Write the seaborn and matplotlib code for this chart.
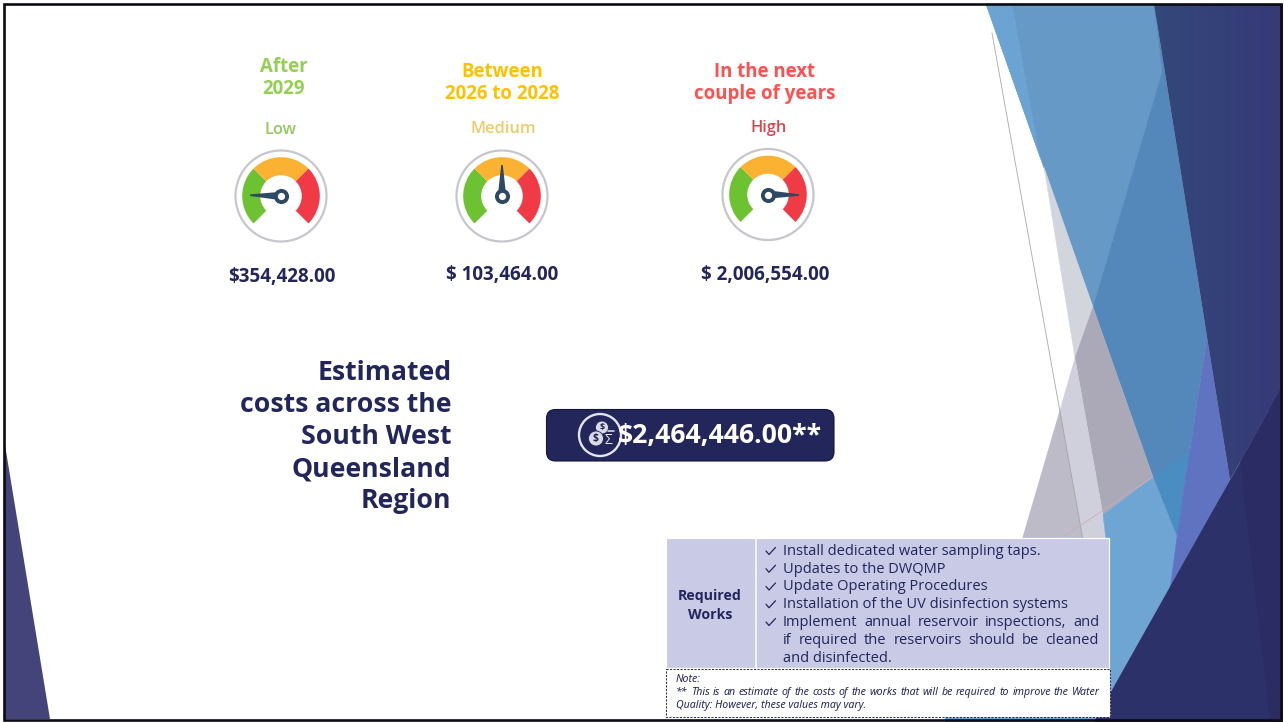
import matplotlib
matplotlib.use("Agg")
import matplotlib.pyplot as plt
from matplotlib.colors import to_rgb
from matplotlib.patches import Polygon, Wedge, Circle, Rectangle, FancyBboxPatch
import numpy as np
import seaborn as sns

# ---------- chart content ----------
period_lines = [["After", "2029"], ["Between", "2026 to 2028"], ["In the next", "couple of years"]]
risk_labels = ["Low", "Medium", "High"]
cost_labels = ["$354,428.00", "$ 103,464.00", "$ 2,006,554.00"]
needle_angles = [178.5, 90, -1]
total_label = "$2,464,446.00**"
heading_lines = ["Estimated", "costs across the", "South West", "Queensland", "Region"]
works_title = ["Required", "Works"]
works_lines = [("Install dedicated water sampling taps.", True, False),
               ("Updates to the DWQMP", True, False),
               ("Update Operating Procedures", True, False),
               ("Installation of the UV disinfection systems", True, False),
               ("Implement annual reservoir inspections, and", True, True),
               ("if required the reservoirs should be cleaned", False, True),
               ("and disinfected.", False, False)]
note_lines = [("Note:", False),
              ("** This is an estimate of the costs of the works that will be required to improve the Water", True),
              ("Quality: However, these values may vary.", False)]

NAVY = "#22265A"
sns.set_theme(style="white")
plt.rcParams["font.family"] = ["Open Sans", "DejaVu Sans"]

fig = plt.figure(figsize=(12.84, 7.22), dpi=100)
ax = fig.add_axes([0, 0, 1, 1])
ax.set_axis_off()

backdrop = [
    # top blue band
    ([(986, 4), (1154, 4), (1162, 72), (1093, 307)], "#6699C6"),
    ([(986, 4), (1012, 4), (1027, 87), (1040, 157)], "#6BA4D3"),
    # middle blue
    ([(1162, 72), (1154, 4), (1198, 280), (1207, 337), (1190, 450), (1177, 537), (1153, 477), (1093, 307)], "#5488BA"),
    ([(1153, 477), (1190, 450), (1177, 537)], "#4A8DC0"),
    # greys
    ([(1044, 167), (1093, 307), (1075, 358)], "#D3D5DD"),
    ([(1093, 307), (1153, 477), (1103, 515), (1075, 358)], "#ABA9B8"),
    ([(1075, 358), (1103, 515), (1106, 540), (1083, 540), (1060, 410)], "#D0D0DC"),
    ([(1060, 410), (1083, 540), (1022, 540)], "#BCBBC7"),
    # lower light blue
    ([(1153, 477), (1177, 537), (1180, 583), (1110, 722), (1106, 722), (1106, 540), (1103, 515)], "#6FA5D2"),
    ([(945, 716), (1100, 716), (1100, 722), (945, 722)], "#6FA5D2"),
    # periwinkle
    ([(1207, 337), (1230, 480), (1170, 590), (1177, 537), (1190, 450)], "#5F73C0"),
]
for pts, col in backdrop:
    ax.add_patch(Polygon(pts, closed=True, fc=col, ec=col, lw=0.3, zorder=1))

# dark right panel: soft gradient, shaped by a clip polygon
c_left, c_right = np.array(to_rgb("#33487A")), np.array(to_rgb("#363B78"))
grad = np.linspace(0, 1, 64)[None, :, None]
panel_img = c_left + (c_right - c_left) * grad
panel = Polygon([(1154, 4), (1282, 4), (1282, 387), (1230, 480), (1207, 337), (1198, 280)], closed=True,
                transform=ax.transData, fc="none", ec="none")
ax.add_patch(panel)
im = ax.imshow(panel_img, extent=(1154, 1270, 722, 0), aspect="auto", zorder=1.2)
im.set_clip_path(panel)
ax.add_patch(Polygon([(1269, 4), (1283, 4), (1283, 390), (1269, 415)], closed=True, fc="#363B78", ec="none", zorder=1.2))

for pts, col in [([(1283, 385), (1283, 722), (1094, 722), (1230, 480)], "#2D3169"),
                 ([(1240, 462), (1283, 385), (1283, 722), (1270, 722)], "#2B2C64")]:
    ax.add_patch(Polygon(pts, closed=True, fc=col, ec="none", zorder=1.4))

ax.add_patch(Polygon([(5, 445), (5, 719), (50, 719)], closed=True, fc="#44447A", ec="none", zorder=1))
ax.plot([992, 1083], [33, 540], color="#A9A6A6", lw=0.6, zorder=2)
ax.plot([1063, 1153], [537, 477], color="#C6AEB6", lw=0.6, zorder=2)


def txt(x, y, s, size, color=NAVY, weight="bold", ha="center", style="normal", zorder=6):
    return ax.text(x, y, s, fontsize=size, color=color, fontweight=weight, ha=ha, va="center",
                   fontstyle=style, zorder=zorder)


# ---------- gauges ----------
gauge_x = [281, 502, 768]
gauge_y = [196, 196, 194.5]
header_x = [284, 502, 765]
header_y = [66.5, 72, 72]
header_colors = ["#92D050", "#FFC000", "#FF5050"]
label_colors = ["#93C95F", "#EFCB6A", "#D8464F"]
label_xy = [(281, 130), (503, 129), (769, 128)]
cost_xy = [(282, 277), (502, 275), (765, 275)]
DARK = "#2E4A62"
bands = [(135, 225, "#6CC230"), (45, 135, "#FBB232"), (-45, 45, "#F03A45")]

for i in range(3):
    cx, cy = gauge_x[i], gauge_y[i]
    ax.add_patch(Circle((cx, cy), 45.5, fc="white", ec="#C6C7CE", lw=1.6, zorder=3))
    for a0, a1, col in bands:
        # the y axis is inverted, so mirror the angles
        ax.add_patch(Wedge((cx, cy), 38.8, -a1, -a0, width=18, fc=col, ec="none", zorder=4))
    ang = np.deg2rad(needle_angles[i])
    ux, uy = np.cos(ang), -np.sin(ang)
    nx, ny = -uy, ux
    ax.add_patch(Polygon([(cx + nx * 4.2, cy + ny * 4.2), (cx + ux * 31 + nx * 0.8, cy + uy * 31 + ny * 0.8),
                          (cx + ux * 31 - nx * 0.8, cy + uy * 31 - ny * 0.8), (cx - nx * 4.2, cy - ny * 4.2)],
                         closed=True, fc=DARK, ec="none", zorder=5))
    for k, line in enumerate(period_lines[i]):
        txt(header_x[i], header_y[i] + 22 * k, line, 13.4, color=header_colors[i])
    txt(*label_xy[i], risk_labels[i], 11.8, color=label_colors[i], weight="semibold")
    txt(*cost_xy[i], cost_labels[i], 13.5)

sns.scatterplot(x=gauge_x, y=gauge_y, s=118, color=DARK, linewidth=0, ax=ax, legend=False, zorder=5.5)
sns.scatterplot(x=gauge_x, y=gauge_y, s=27, color="white", linewidth=0, ax=ax, legend=False, zorder=5.6)

# ---------- heading ----------
for k, line in enumerate(heading_lines):
    txt(451.5, 372.5 + 32.2 * k, line, 19.2, ha="right")

# ---------- total pill ----------
ax.add_patch(FancyBboxPatch((546.5, 409.5), 287.5, 51.5, boxstyle="round,pad=0,rounding_size=9",
                            fc=NAVY, ec="#14163A", lw=0.8, zorder=3))
ax.add_patch(Circle((600, 435), 21, fc=NAVY, ec="#E4E5EE", lw=1.7, zorder=4))
ax.add_patch(Circle((602, 427.5), 6.5, fc="#D9DAE4", ec=NAVY, lw=0.6, zorder=4))
ax.add_patch(Circle((596, 438.5), 7.5, fc="#D9DAE4", ec=NAVY, lw=0.6, zorder=4))
txt(602, 427.5, "$", 6.5, color=NAVY, zorder=5)
txt(596, 438.5, "$", 7.5, color=NAVY, zorder=5)
txt(608, 441, "Σ", 10, color="#E4E5EE", weight="normal", zorder=5)
ax.plot([608, 614], [431, 431], color="#E4E5EE", lw=1.1, zorder=5)
txt(720, 436.5, total_label, 19.2, color="white", zorder=7)

# ---------- works table ----------
ax.add_patch(Rectangle((665.5, 537.5), 443.5, 130.5, fc="#C8CAE6", ec="white", lw=0.9, zorder=5))
ax.plot([755.5, 755.5], [538, 668], color="white", lw=1.1, zorder=5.5)
ax.add_patch(Rectangle((666, 668.5), 444, 48, fc="white", ec="#22265A", lw=0.7, ls=(0, (2.2, 1.4)), zorder=5))
for k, line in enumerate(works_title):
    txt(710, 596 + 19 * k, line, 10.2)

fig.canvas.draw()
renderer = fig.canvas.get_renderer()


def justified(line, x0, x1, y, size, **kw):
    words = line.split(" ")
    items = [ax.text(x0, y, w, fontsize=size, color=NAVY, va="center", ha="left", zorder=7, **kw) for w in words]
    widths = [t.get_window_extent(renderer).width for t in items]
    gap = (x1 - x0 - sum(widths)) / (len(words) - 1)
    x = x0
    for t, w in zip(items, widths):
        t.set_x(x)
        x += w + gap


for k, (line, tick, just) in enumerate(works_lines):
    y = 551.5 + 17.75 * k
    if tick:
        ax.plot([766, 769, 775.5], [y - 0.5, y + 3, y - 4], color=NAVY, lw=0.9, zorder=7)
    if just:
        justified(line, 783, 1099, y, 10.5)
    else:
        ax.text(783, y, line, fontsize=10.5, color=NAVY, va="center", ha="left", zorder=7)

for k, (line, just) in enumerate(note_lines):
    y = 679.5 + 12.8 * k
    if just:
        justified(line, 676, 1100, y, 7.6, fontstyle="italic", family="Noto Sans")
    else:
        ax.text(676, y, line, fontsize=7.6, color=NAVY, va="center", ha="left", fontstyle="italic",
                family="Noto Sans", zorder=7)

# ---------- slide frame ----------
ax.add_patch(Rectangle((4, 4), 1277, 716, fc="none", ec="#0B0B14", lw=1.9, zorder=9))

ax.set_xlim(0, 1284)
ax.set_ylim(722, 0)
fig.savefig("out.png", dpi=100, facecolor="white")
